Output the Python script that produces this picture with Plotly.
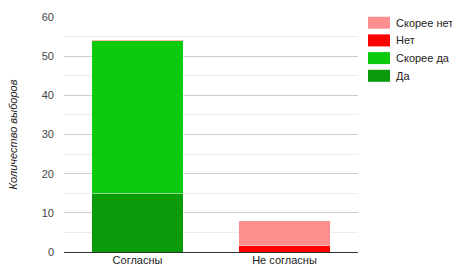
import plotly.graph_objects as go

categories = ["Согласны", "Не согласны"]
da = [15, 0]
skoree_da = [39, 0]
net = [0, 1.6]
skoree_net = [0.25, 6.4]

series = [
    ("Да", da, "#0a9b0a"),
    ("Скорее да", skoree_da, "#0ccb0c"),
    ("Нет", net, "#ff0000"),
    ("Скорее нет", skoree_net, "#ff8f8f"),
]

fig = go.Figure()
for name, vals, color in series:
    fig.add_trace(go.Bar(
        x=categories, y=vals, name=name, showlegend=False,
        marker=dict(color=color, line=dict(width=1, color="rgba(255,255,255,0.35)")),
    ))

W, H = 452, 268
L, T, B = 64, 17, 16
plot_w = 294
paper_w = W - L
plot_h = H - T - B

def px_x(wx):
    return (wx - L) / paper_w

def px_y(wy):
    return (H - B - wy) / plot_h

# legend drawn as shapes + text (top entry = last series)
row_y = [22.7, 40.4, 58.1, 75.8]
for i, (name, vals, color) in enumerate(reversed(series)):
    cy = row_y[i]
    fig.add_shape(type="rect", xref="paper", yref="paper",
                  x0=px_x(368), x1=px_x(390), y0=px_y(cy + 6), y1=px_y(cy - 6),
                  fillcolor=color, line=dict(width=0))
    fig.add_annotation(xref="paper", yref="paper", x=px_x(394), y=px_y(cy),
                       xanchor="left", yanchor="middle", text=name, showarrow=False,
                       font=dict(size=11, color="#222"))

fig.update_layout(
    barmode="stack",
    bargap=0.38,
    width=W, height=H,
    margin=dict(l=L, r=0, t=T, b=B, autoexpand=False),
    paper_bgcolor="white", plot_bgcolor="white",
    font=dict(family="Liberation Sans, Arial, sans-serif", size=11, color="#222"),
    showlegend=False,
    xaxis=dict(domain=[0, plot_w / paper_w], showgrid=False, showline=False, ticks="",
               tickfont=dict(size=11, color="#222"), automargin=False),
    yaxis=dict(
        range=[0, 60], dtick=10, showgrid=True, gridcolor="#cccccc", gridwidth=1,
        zeroline=True, zerolinecolor="#333333", zerolinewidth=1,
        tickfont=dict(size=11, color="#444"), automargin=False,
        minor=dict(dtick=5, showgrid=True, gridcolor="#ebebeb"),
        title=dict(text="Количество выборов", font=dict(size=11, color="#222", style="italic"), standoff=21),
        ticklabelstandoff=9,
    ),
)

fig.write_html(
    "out.html",
    config={"displayModeBar": False},
    post_script="document.body.style.margin='0';document.body.style.overflow='hidden';",
)
